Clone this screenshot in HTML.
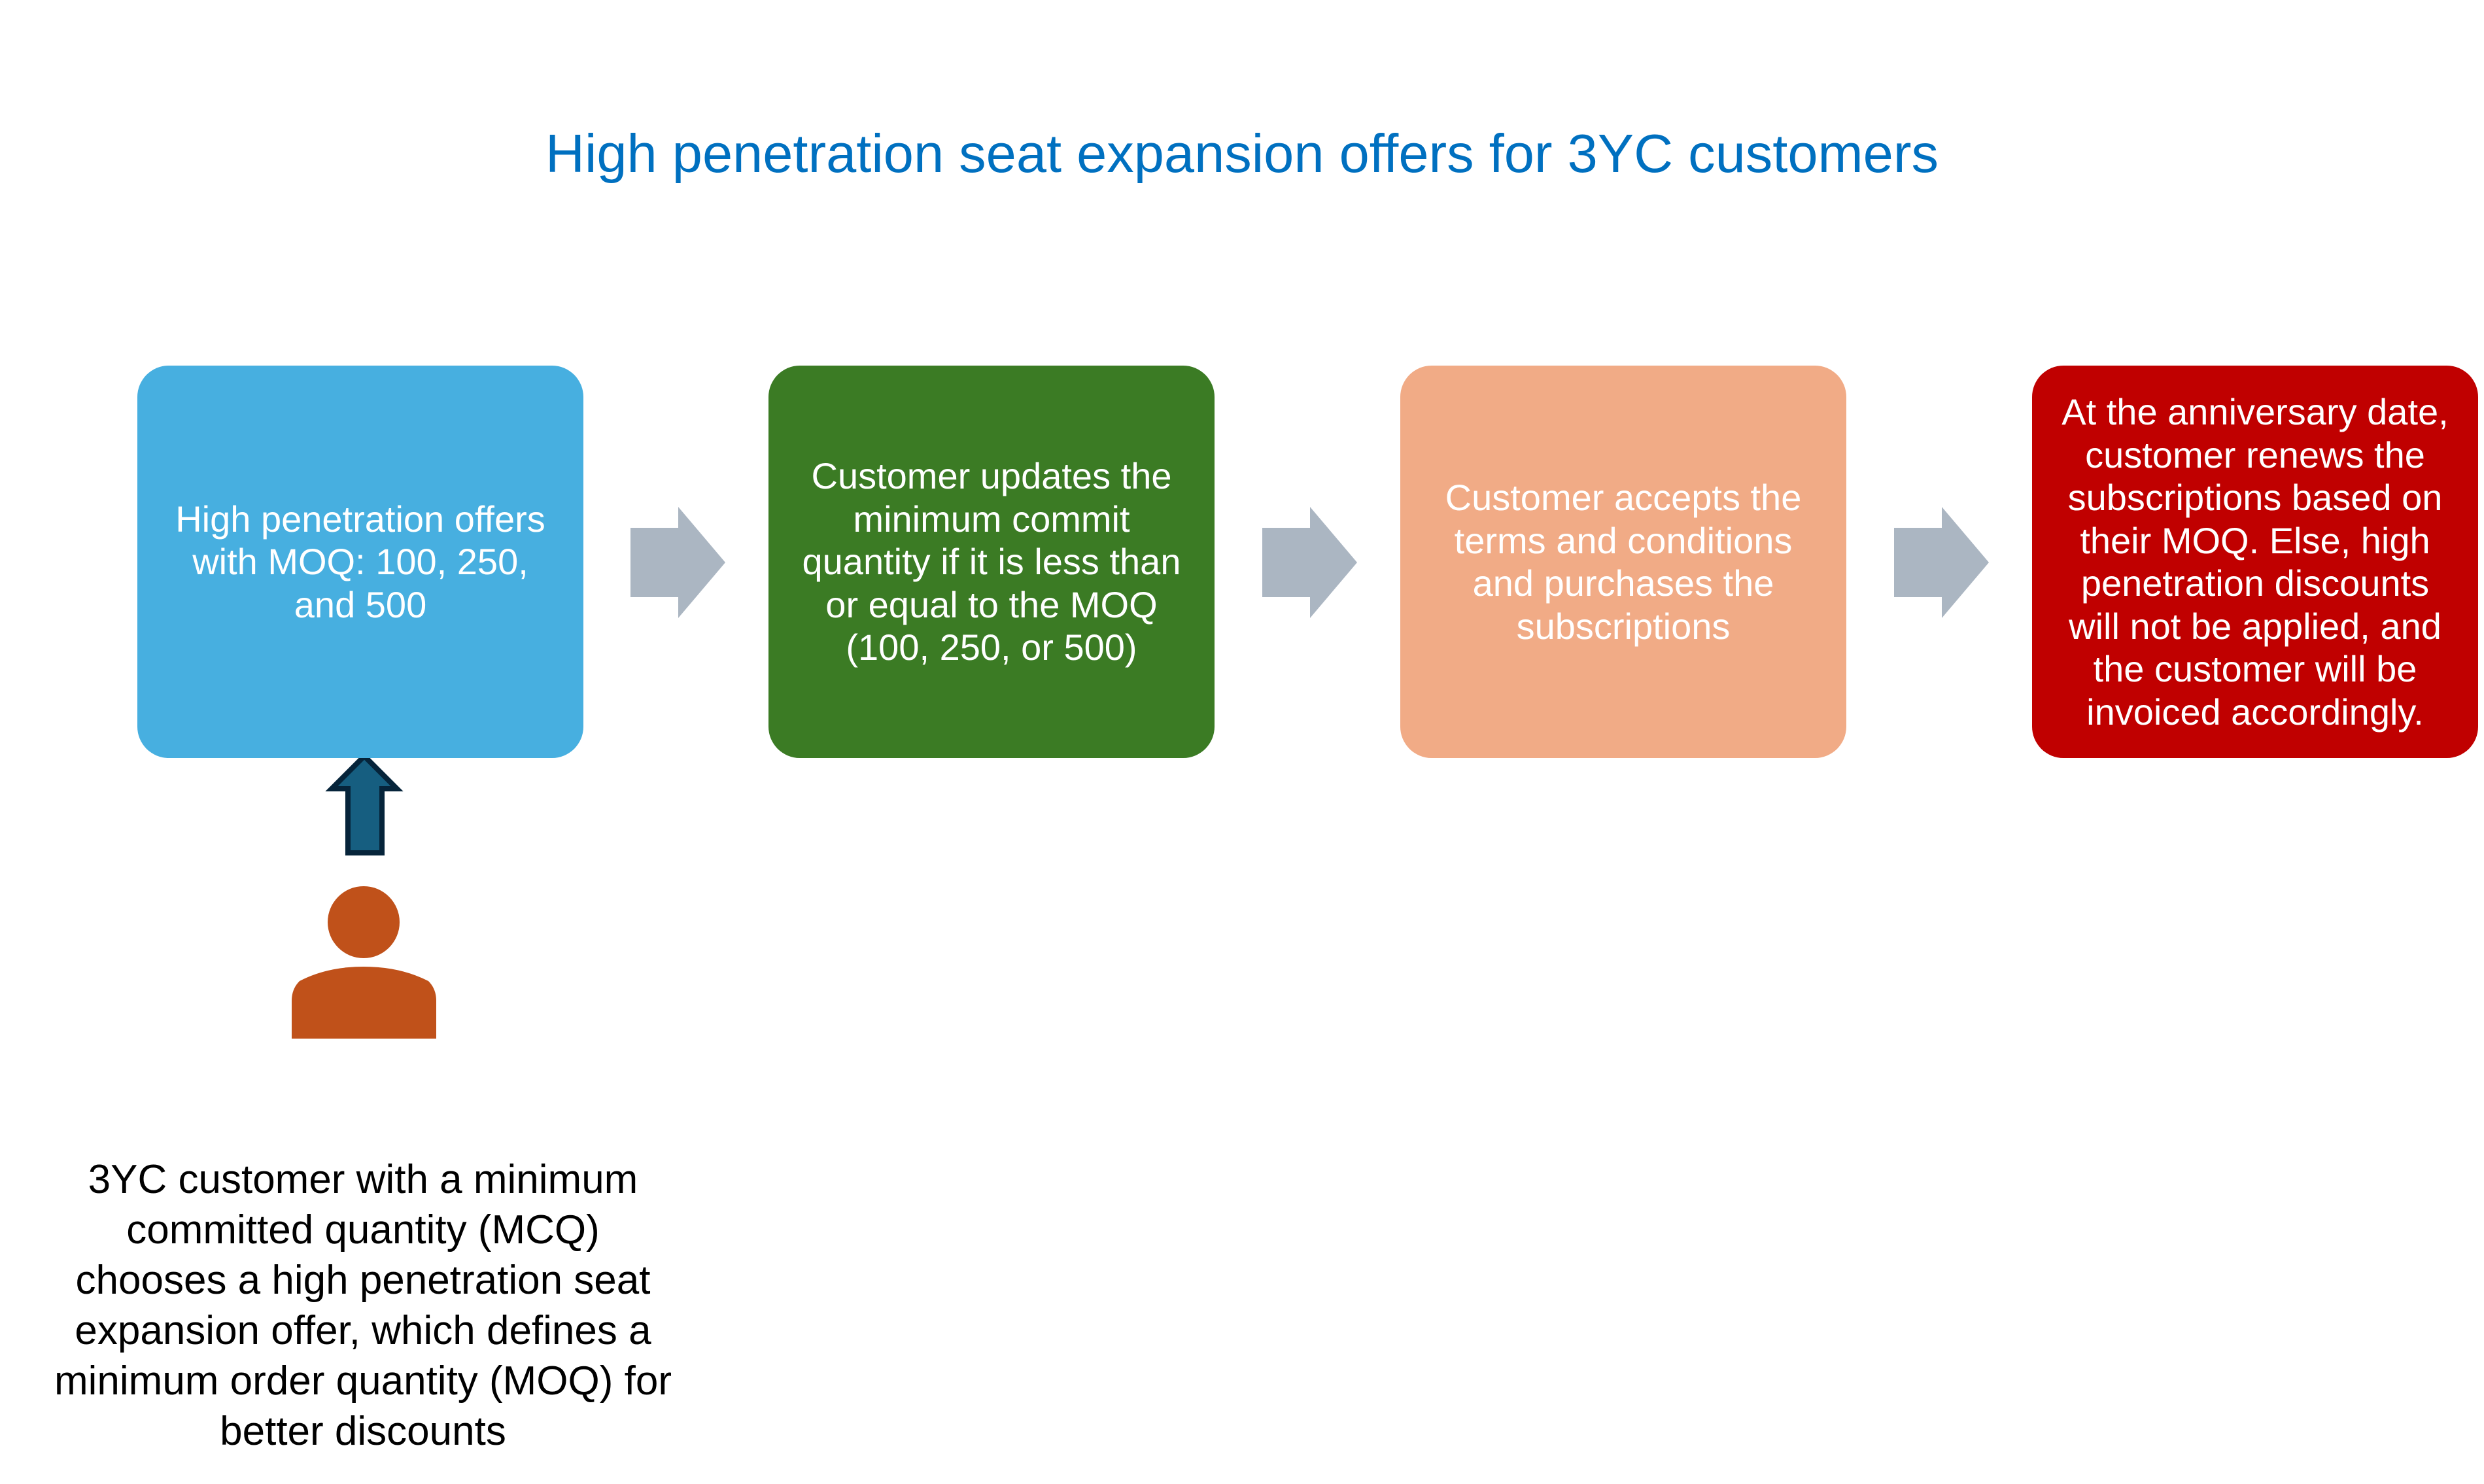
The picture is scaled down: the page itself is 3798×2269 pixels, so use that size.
<!DOCTYPE html>
<html><head><meta charset="utf-8"><style>
html,body{margin:0;padding:0;background:#fff;}
#c{position:relative;width:3798px;height:2269px;overflow:hidden;font-family:"Liberation Sans",sans-serif;}
.t{position:absolute;left:0;width:3798px;top:180px;text-align:center;color:#0070C0;font-size:83px;line-height:110px;}
.b{position:absolute;top:559px;width:682px;height:600px;border-radius:48px;display:flex;align-items:center;justify-content:center;text-align:center;color:#fff;font-size:56px;line-height:65.5px;white-space:nowrap;}
.bt{position:absolute;left:0;width:1110px;top:1765px;text-align:center;color:#000;font-size:62px;line-height:77px;white-space:nowrap;}
svg{position:absolute;left:0;top:0;}
</style></head><body><div id="c">
<svg width="3798" height="2269">
<g fill="#ABB6C2">
<polygon points="964,807 1037,807 1037,775 1109,860 1037,945 1037,913 964,913"/>
<polygon points="1930,807 2003,807 2003,775 2075,860 2003,945 2003,913 1930,913"/>
<polygon points="2896,807 2969,807 2969,775 3041,860 2969,945 2969,913 2896,913"/>
</g>
<polygon points="557,1156 607,1206 584,1206 584,1304 532,1304 532,1206 507,1206" fill="#165E80" stroke="#06243A" stroke-width="8"/>
<ellipse cx="556" cy="1410" rx="55" ry="55" fill="#C0511A"/>
<path d="M446,1588 L446,1530 Q446,1512 458,1500 Q500,1478 556,1478 Q612,1478 655,1500 Q667,1512 667,1530 L667,1588 Z" fill="#C0511A"/>
</svg>
<div class="t">High penetration seat expansion offers for 3YC customers</div>
<div class="b" style="left:210px;background:#47AFE0;"><div>High penetration offers<br>with MOQ: 100, 250,<br>and 500</div></div>
<div class="b" style="left:1175px;background:#3B7B24;"><div>Customer updates the<br>minimum commit<br>quantity if it is less than<br>or equal to the MOQ<br>(100, 250, or 500)</div></div>
<div class="b" style="left:2141px;background:#F1AB86;"><div>Customer accepts the<br>terms and conditions<br>and purchases the<br>subscriptions</div></div>
<div class="b" style="left:3107px;background:#C00000;"><div>At the anniversary date,<br>customer renews the<br>subscriptions based on<br>their MOQ. Else, high<br>penetration discounts<br>will not be applied, and<br>the customer will be<br>invoiced accordingly.</div></div>
<div class="bt">3YC customer with a minimum<br>committed quantity (MCQ)<br>chooses a high penetration seat<br>expansion offer, which defines a<br>minimum order quantity (MOQ) for<br>better discounts</div>
</div></body></html>
